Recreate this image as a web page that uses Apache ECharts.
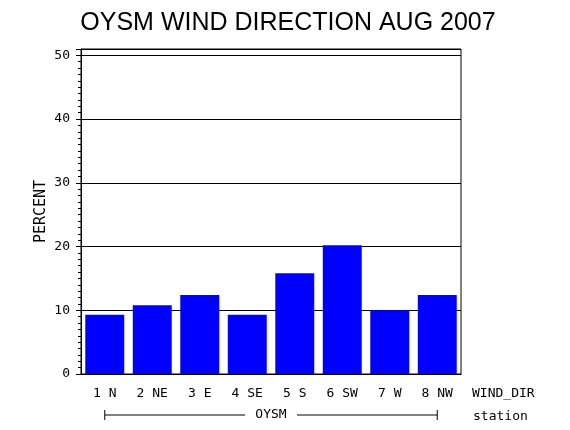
<!DOCTYPE html>
<html>
<head>
<meta charset="utf-8">
<script src="https://cdn.jsdelivr.net/npm/echarts@6/dist/echarts.min.js"></script>
<style>
html,body{margin:0;padding:0;background:#fff;}
#c{width:570px;height:430px;}
</style>
</head>
<body>
<div id="c"></div>
<script>
const categories = ['1 N', '2 NE', '3 E', '4 SE', '5 S', '6 SW', '7 W', '8 NW'];
const percentValues = [9.3, 10.8, 12.4, 9.3, 15.8, 20.2, 10.0, 12.4];
const yTicks = [0, 10, 20, 30, 40, 50];
const stationName = 'OYSM';

const mono = 'DejaVu Sans Mono';
const chart = echarts.init(document.getElementById('c'), null, {renderer: 'canvas'});

const option = {
  animation: false,
  backgroundColor: '#ffffff',
  title: {
    text: 'OYSM WIND DIRECTION AUG 2007',
    left: 283, top: 6, textAlign: 'center',
    textStyle: {fontFamily: 'Liberation Sans', fontSize: 25, fontWeight: 'normal', color: '#000'}
  },
  grid: {left: 81, right: 109, top: 49, bottom: 56, show: true, borderColor: '#000', borderWidth: 1, backgroundColor: 'transparent'},
  xAxis: {
    type: 'category',
    data: categories,
    axisLine: {lineStyle: {color: '#000', width: 1}},
    axisTick: {show: false},
    axisLabel: {interval: 0, margin: 13, fontFamily: mono, fontSize: 13, color: '#000'}
  },
  yAxis: {
    type: 'value',
    min: 0, max: 51, interval: 10,
    name: 'PERCENT', nameLocation: 'middle', nameGap: 32, nameMoveOverlap: false,
    nameTextStyle: {fontFamily: mono, fontSize: 15, color: '#000'},
    axisLine: {show: true, lineStyle: {color: '#000', width: 1}},
    axisTick: {show: true, length: 5, lineStyle: {color: '#000'}},
    minorTick: {show: true, splitNumber: 10, length: 3, lineStyle: {color: '#000'}},
    splitLine: {show: true, lineStyle: {color: '#000', width: 1}},
    axisLabel: {
      showMaxLabel: false, margin: 11, fontFamily: mono, fontSize: 13, color: '#000',
      formatter: v => (yTicks.indexOf(v) >= 0 ? String(v) : '')
    }
  },
  series: [{
    type: 'bar',
    data: percentValues,
    barCategoryGap: '18%',
    itemStyle: {color: '#0000ff'}
  }]
};
chart.setOption(option);

// bracket under categories (from first to last category centre), labels at right
const x0 = chart.convertToPixel({xAxisIndex: 0}, categories[0]);
const x1 = chart.convertToPixel({xAxisIndex: 0}, categories[categories.length - 1]);
const xm = (x0 + x1) / 2;
const by = 415;
const gapHalf = 26;
chart.setOption({
  graphic: [
    {type: 'line', shape: {x1: x0, y1: by, x2: xm - gapHalf, y2: by}, style: {stroke: '#000', lineWidth: 1}},
    {type: 'line', shape: {x1: xm + gapHalf, y1: by, x2: x1, y2: by}, style: {stroke: '#000', lineWidth: 1}},
    {type: 'line', shape: {x1: x0, y1: by - 5, x2: x0, y2: by + 5}, style: {stroke: '#000', lineWidth: 1}},
    {type: 'line', shape: {x1: x1, y1: by - 5, x2: x1, y2: by + 5}, style: {stroke: '#000', lineWidth: 1}},
    {type: 'text', x: xm, y: by, style: {text: stationName, fontFamily: mono, fontSize: 13, fill: '#000', align: 'center', verticalAlign: 'middle'}},
    {type: 'text', x: 472, y: 394, style: {text: 'WIND_DIR', fontFamily: mono, fontSize: 13, fill: '#000', align: 'left', verticalAlign: 'middle'}},
    {type: 'text', x: 473, y: 417, style: {text: 'station', fontFamily: mono, fontSize: 13, fill: '#000', align: 'left', verticalAlign: 'middle'}}
  ]
});
</script>
</body>
</html>
